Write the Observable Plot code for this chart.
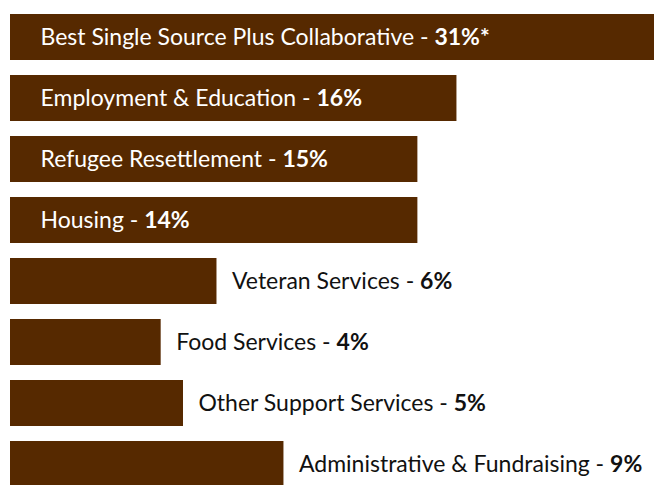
<!DOCTYPE html>
<html>
<head>
<meta charset="utf-8">
<script src="https://cdn.jsdelivr.net/npm/d3@7"></script>
<script src="https://cdn.jsdelivr.net/npm/@observablehq/plot@0.6"></script>
<style>
  html, body { margin: 0; padding: 0; background: #fff; }
  #chart svg { display: block; }
</style>
</head>
<body>
<div id="chart"></div>
<script>
const categories = [
  "Best Single Source Plus Collaborative",
  "Employment & Education",
  "Refugee Resettlement",
  "Housing",
  "Veteran Services",
  "Food Services",
  "Other Support Services",
  "Administrative & Fundraising"
];
const values = [31, 16, 15, 14, 6, 4, 5, 9];
const valueLabels = ["31%*", "16%", "15%", "14%", "6%", "4%", "5%", "9%"];
// drawn bar extents (the bars are not drawn to scale)
const barExtent = [23.1, 16.0, 14.6, 14.6, 7.4, 5.4, 6.2, 9.8];
const labelInside = [true, true, true, true, false, false, false, false];

const data = categories.map((name, i) => ({
  name, value: values[i], label: valueLabels[i], extent: barExtent[i], inside: labelInside[i]
}));

const FONT = "Lato, 'Open Sans', sans-serif";
const FS = 23;

const chart = Plot.plot({
  width: 654,
  height: 485,
  margin: 0,
  style: { fontFamily: FONT, background: "#fff", overflow: "hidden" },
  x: { domain: [0, 23.08], range: [10, 654], axis: null },
  y: { domain: categories, range: [12.5, 487.6], paddingInner: 0.25, paddingOuter: 0, axis: null },
  marks: [
    Plot.barX(data, { x1: 0, x2: "extent", y: "name", fill: "#562900" }),
    Plot.text(data.filter(d => d.inside), {
      x: 0, y: "name", text: d => d.name + " - " + d.label,
      dx: 30, textAnchor: "start", fill: "#fff", fontSize: FS
    }),
    Plot.text(data.filter(d => !d.inside), {
      x: "extent", y: "name", text: d => d.name + " - " + d.label,
      dx: 15, textAnchor: "start", fill: "#111", fontSize: FS
    })
  ]
});

document.getElementById("chart").appendChild(chart);

// make the value part of each label bold
d3.select(chart).selectAll("text").each(function () {
  const t = this.textContent;
  const k = t.lastIndexOf(" - ");
  if (k < 0) return;
  const head = t.slice(0, k + 3), tail = t.slice(k + 3);
  const sel = d3.select(this);
  sel.text(head);
  sel.append("tspan").attr("font-weight", "bold").text(tail);
});
</script>
</body>
</html>
